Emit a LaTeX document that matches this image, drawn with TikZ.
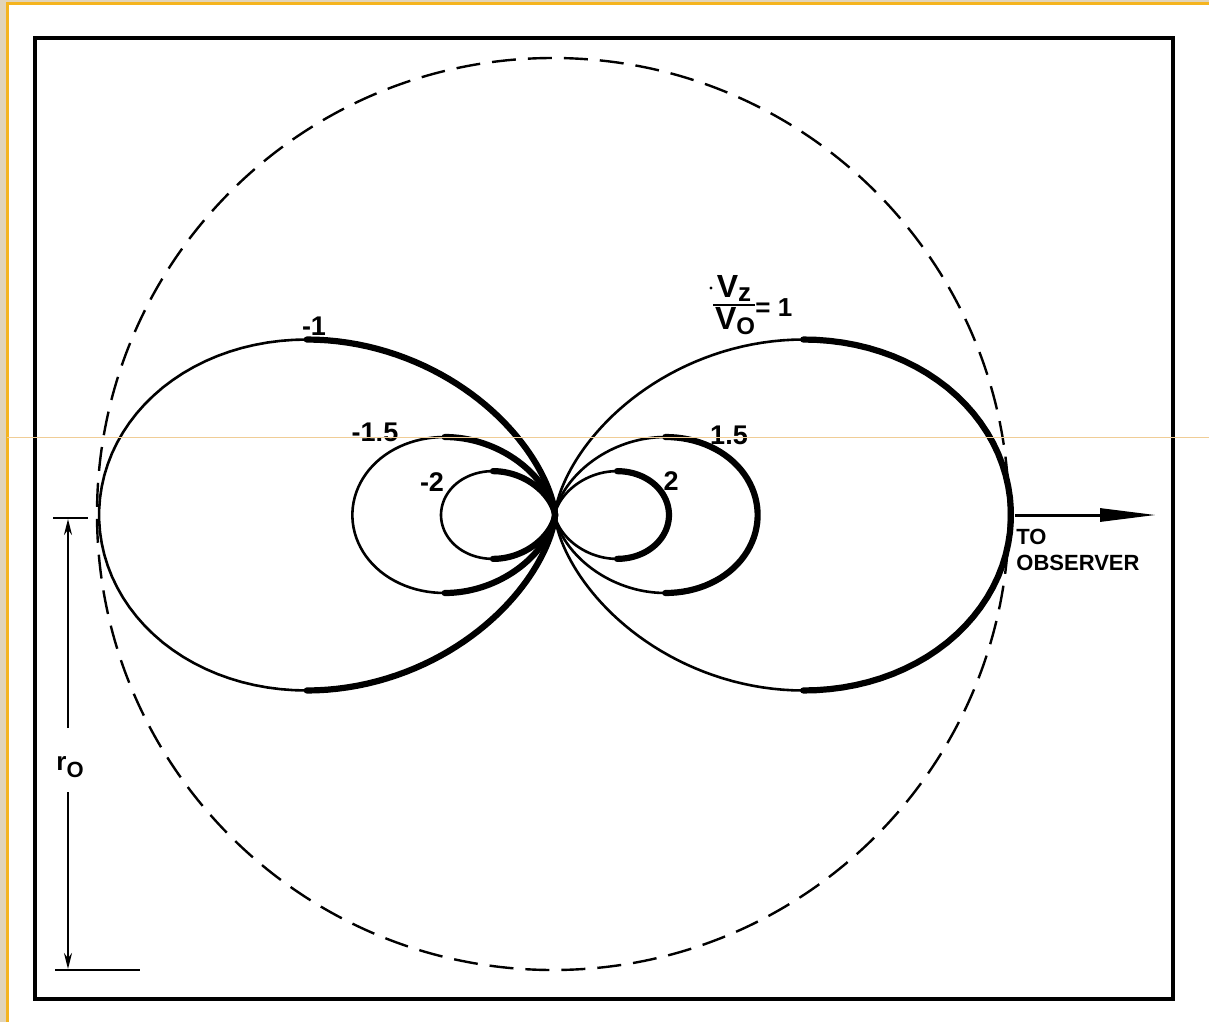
\documentclass[tikz,border=0pt]{standalone}
\usepackage{fontspec}
\setmainfont{Liberation Sans}
\usetikzlibrary{arrows.meta}
\definecolor{beige}{RGB}{225,212,185}
\definecolor{frameorange}{RGB}{245,180,30}
\definecolor{scanline}{RGB}{240,205,150}
\tikzset{
  thinc/.style={line width=1.3pt, line join=round, line cap=round},
  thickc/.style={line width=3.1pt, line join=round, line cap=round},
  dashc/.style={line width=1.2pt, dash pattern=on 12pt off 6pt},
  boxc/.style={line width=1.6pt},
  lbl/.style={inner sep=0pt, font=\fontsize{13.5}{15}\selectfont\bfseries},
  obs/.style={inner sep=0pt, align=left, font=\fontsize{11}{13}\selectfont\bfseries},
  tick/.style={line width=1.3pt},
}
\begin{document}
\begin{tikzpicture}[x=0.5pt,y=-0.5pt]
\useasboundingbox (0,0) rectangle (1209,1022);
% background and scan frame
\fill[beige] (0,0) rectangle (1209,1022);
\fill[white] (7,4) rectangle (1209,1022);
\draw[frameorange, line width=1.5pt] (7,1022) -- (7,4) -- (1209,4);
% inner box
\draw[boxc] (35,38) rectangle (1173,999);
% dashed circle
\coordinate (cc) at (553,514);
\draw[dashc] (cc) circle[radius=456];
% lobes
\coordinate (O) at (555,515);
\def\asep{35.26}
\foreach \k in {1,1.5,2}{
  \pgfmathsetmacro{\R}{456/(\k*\k)}
  % right lobes: thick outer part
  \draw[thickc] plot[domain=-\asep:\asep, samples=50, variable=\t]
     ({555+\R*cos(\t)^3},{515-\R*cos(\t)^2*sin(\t)});
  \draw[thinc] plot[domain=\asep:90, samples=50, variable=\t]
     ({555+\R*cos(\t)^3},{515-\R*cos(\t)^2*sin(\t)});
  \draw[thinc] plot[domain=-90:-\asep, samples=50, variable=\t]
     ({555+\R*cos(\t)^3},{515-\R*cos(\t)^2*sin(\t)});
  % left lobes: thick inner part
  \draw[thinc] plot[domain=-\asep:\asep, samples=50, variable=\t]
     ({555-\R*cos(\t)^3},{515-\R*cos(\t)^2*sin(\t)});
  \draw[thickc] plot[domain=\asep:90, samples=50, variable=\t]
     ({555-\R*cos(\t)^3},{515-\R*cos(\t)^2*sin(\t)});
  \draw[thickc] plot[domain=-90:-\asep, samples=50, variable=\t]
     ({555-\R*cos(\t)^3},{515-\R*cos(\t)^2*sin(\t)});
}
% labels
\node[lbl] (lm1) at (314,326) {-1};
\node[lbl] (lm15) at (375,432) {-1.5};
\node[lbl] (lm2) at (432,482) {-2};
\node[lbl] (lp15) at (729,435) {1.5};
\node[lbl] (lp2) at (671,481) {2};
% fraction label
\node[inner sep=0pt, font=\fontsize{16}{18}\selectfont\bfseries] (vz) at (734,288) {V\raisebox{-2pt}{\fontsize{13}{15}\selectfont z}};
\node[inner sep=0pt, font=\fontsize{16}{18}\selectfont\bfseries] (vo) at (735,321) {V\raisebox{-2.5pt}{\fontsize{12}{14}\selectfont O}};
\coordinate (fb1) at (713,305);
\coordinate (fb2) at (755,305);
\draw[line width=1.3pt] (fb1) -- (fb2);
\fill (711,288) circle[radius=1.6];
\node[lbl, anchor=west, font=\fontsize{13}{15}\selectfont\bfseries] (eq) at (755,308) {= 1};
% scan artifact line
\draw[scanline, line width=0.5pt] (7,437) -- (1209,437);
% to observer
\coordinate (obsA) at (1015,515);
\coordinate (obsB) at (1156,515);
\draw[line width=1.5pt, -{Triangle[length=28pt,width=6.5pt]}] (obsA) -- (obsB);
\node[obs, anchor=north west] (obstxt) at (1016,529) {TO\\OBSERVER};
% r0 marker
\coordinate (t1a) at (53,518);
\coordinate (t1b) at (88,518);
\coordinate (t2a) at (55,970);
\coordinate (t2b) at (140,970);
\draw[tick] (t1a) -- (t1b);
\draw[tick] (t2a) -- (t2b);
\node[inner sep=0pt, font=\fontsize{13}{15}\selectfont\bfseries] (r0) at (70,767) {r\raisebox{-3.5pt}{\fontsize{11}{13}\selectfont O}};
\coordinate (ra) at (68,728);
\coordinate (rb) at (68,519);
\coordinate (rc) at (68,792);
\coordinate (rd) at (68,969);
\draw[line width=1.1pt, -{Stealth[length=8pt,width=4pt]}] (ra) -- (rb);
\draw[line width=1.1pt, -{Stealth[length=8pt,width=4pt]}] (rc) -- (rd);
\end{tikzpicture}
\end{document}
